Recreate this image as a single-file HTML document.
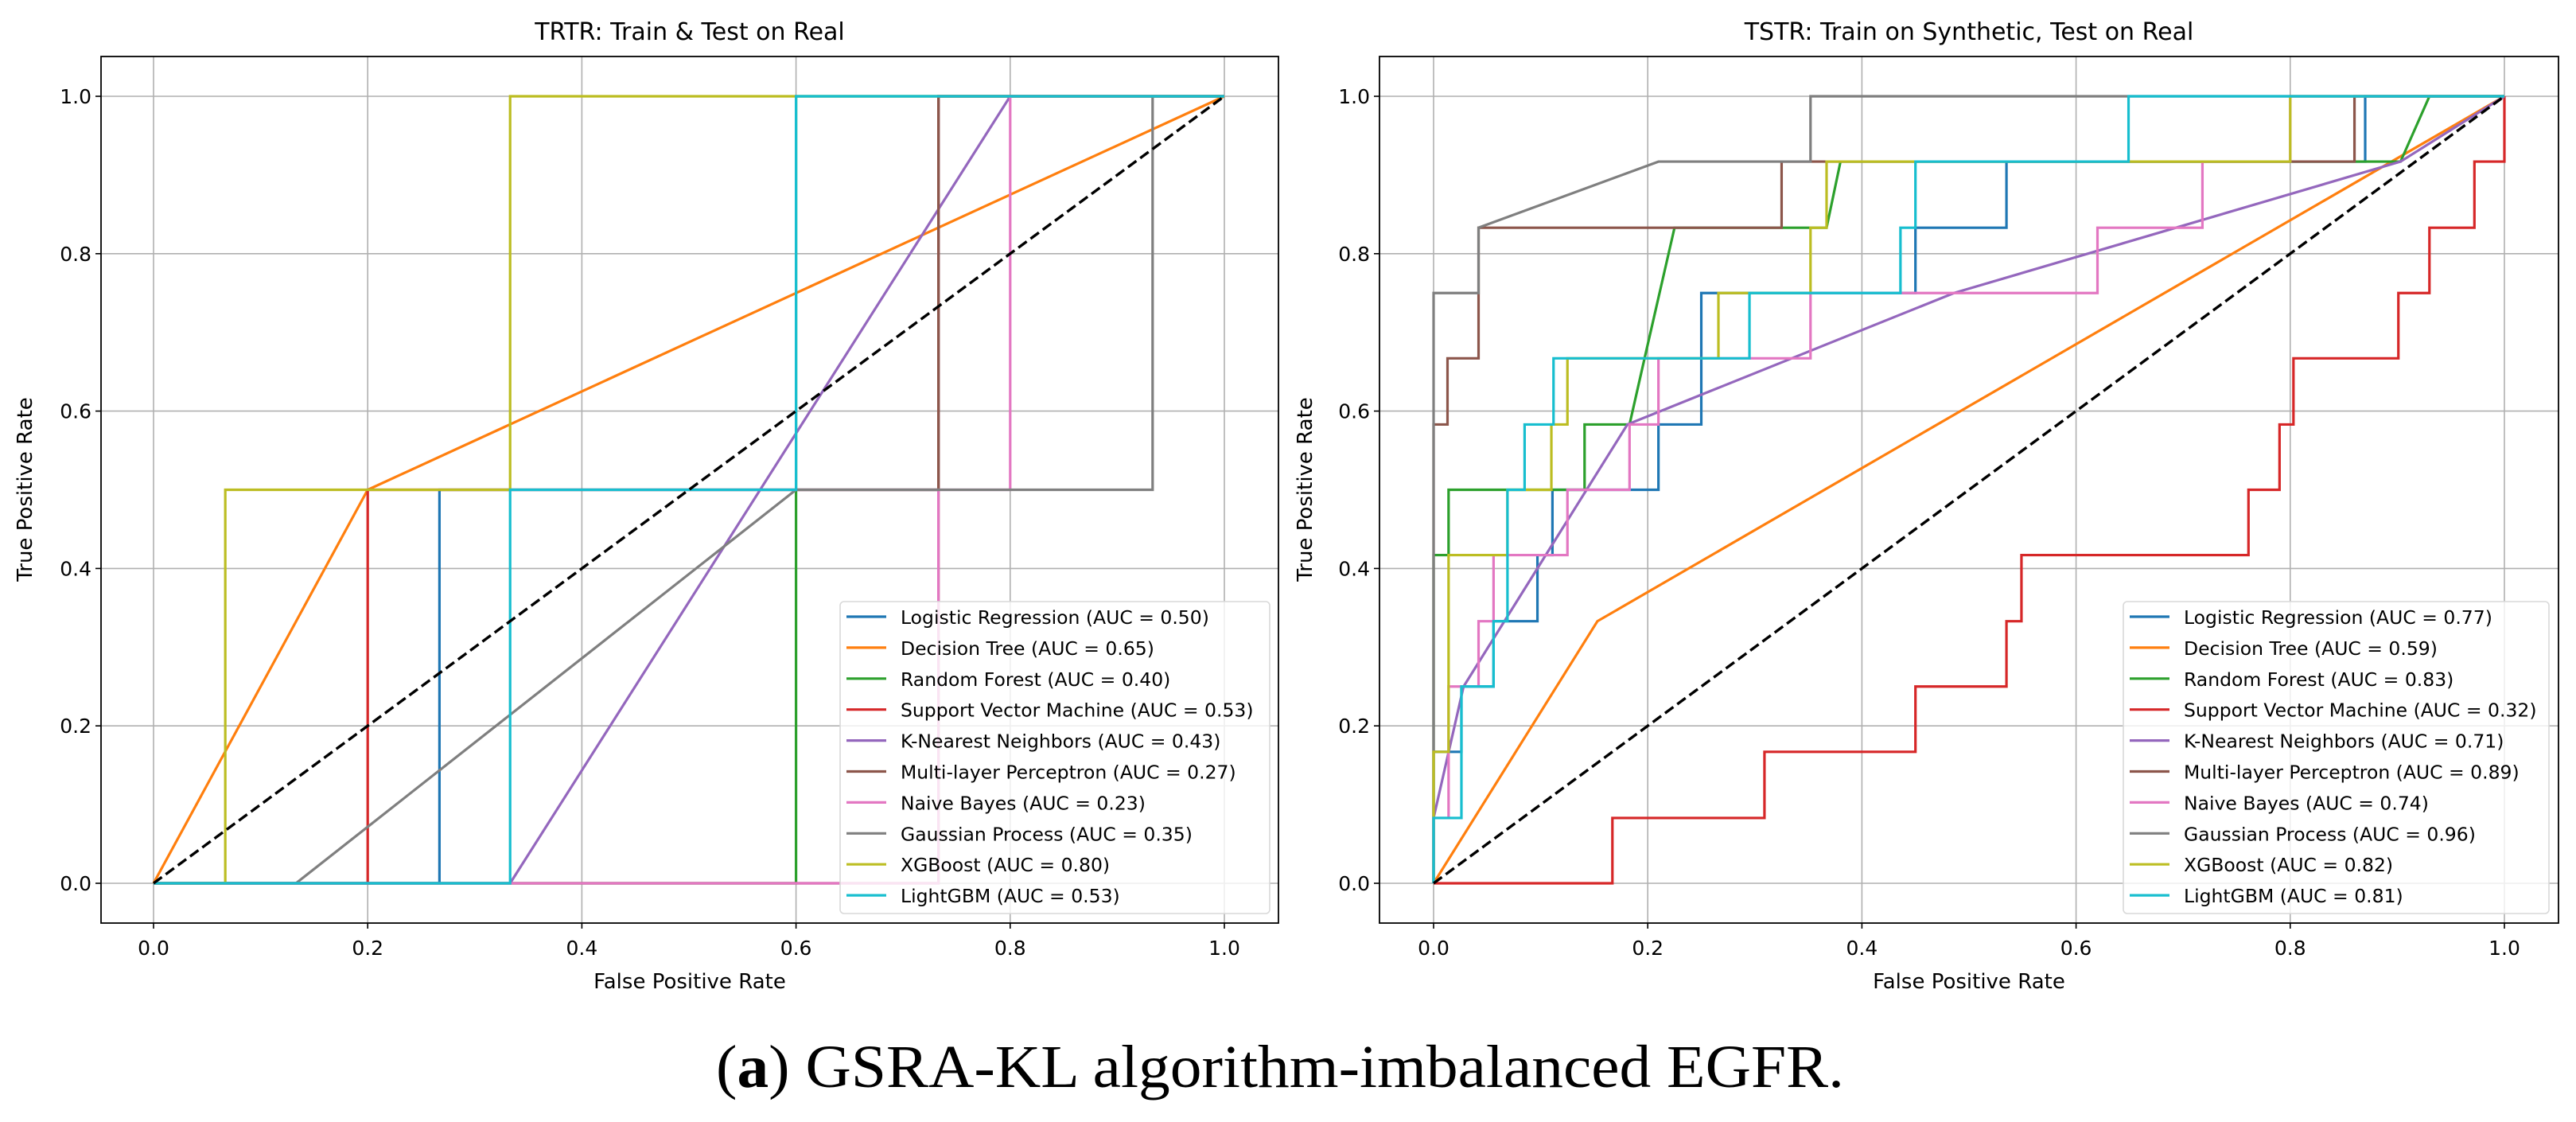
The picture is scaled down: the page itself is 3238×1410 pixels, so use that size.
<!DOCTYPE html>
<html><head><meta charset="utf-8"><style>
html,body{margin:0;padding:0;background:#fff;}
svg{display:block;}
text{font-family:"DejaVu Sans","Liberation Sans",sans-serif;fill:#000;}
</style></head><body>
<svg id="fig" width="3238" height="1410" viewBox="0 0 3238 1410" xmlns="http://www.w3.org/2000/svg">
<text x="1609" y="1366" text-anchor="middle" textLength="1418" lengthAdjust="spacingAndGlyphs" style="font-family:'Liberation Serif',serif;font-size:76px;">(<tspan font-weight="bold">a</tspan>) GSRA-KL algorithm-imbalanced EGFR.</text>
</svg>
<script>
const names = ["Logistic Regression","Decision Tree","Random Forest","Support Vector Machine","K-Nearest Neighbors","Multi-layer Perceptron","Naive Bayes","Gaussian Process","XGBoost","LightGBM"];
const colors = ["#1f77b4","#ff7f0e","#2ca02c","#d62728","#9467bd","#8c564b","#e377c2","#7f7f7f","#bcbd22","#17becf"];
const ticks = [0,0.2,0.4,0.6,0.8,1.0];
const tickLabels = ["0.0","0.2","0.4","0.6","0.8","1.0"];
const aucLeft = ["0.50","0.65","0.40","0.53","0.43","0.27","0.23","0.35","0.80","0.53"];
const aucRight = ["0.77","0.59","0.83","0.32","0.71","0.89","0.74","0.96","0.82","0.81"];
const lrLeft = [[0,0],[0.267,0],[0.267,0.5],[0.733,0.5],[0.733,1],[1,1]];
const dtLeft = [[0,0],[0.2,0.5],[1,1]];
const rfLeft = [[0,0],[0.6,0],[0.6,1],[1,1]];
const svmLeft = [[0,0],[0.2,0],[0.2,0.5],[0.733,0.5],[0.733,1],[1,1]];
const knnLeft = [[0,0],[0.333,0],[0.8,1],[1,1]];
const mlpLeft = [[0,0],[0.733,0],[0.733,1],[1,1]];
const nbLeft = [[0,0],[0.733,0],[0.733,0.5],[0.8,0.5],[0.8,1],[1,1]];
const gpLeft = [[0,0],[0.133,0],[0.6,0.5],[0.933,0.5],[0.933,1],[1,1]];
const xgbLeft = [[0,0],[0.067,0],[0.067,0.5],[0.333,0.5],[0.333,1],[1,1]];
const lgbmLeft = [[0,0],[0.333,0],[0.333,0.5],[0.6,0.5],[0.6,1],[1,1]];
const lrRight = [[0,0],[0,0.167],[0.026,0.167],[0.026,0.25],[0.056,0.25],[0.056,0.333],[0.097,0.333],[0.097,0.417],[0.111,0.417],[0.111,0.5],[0.21,0.5],[0.21,0.583],[0.25,0.583],[0.25,0.75],[0.45,0.75],[0.45,0.833],[0.535,0.833],[0.535,0.917],[0.87,0.917],[0.87,1],[1,1]];
const dtRight = [[0,0],[0.153,0.333],[1,1]];
const rfRight = [[0,0],[0,0.417],[0.014,0.417],[0.014,0.5],[0.141,0.5],[0.141,0.583],[0.183,0.583],[0.197,0.667],[0.225,0.833],[0.367,0.833],[0.38,0.917],[0.903,0.917],[0.93,1],[1,1]];
const svmRight = [[0,0],[0.167,0],[0.167,0.083],[0.309,0.083],[0.309,0.167],[0.45,0.167],[0.45,0.25],[0.535,0.25],[0.535,0.333],[0.549,0.333],[0.549,0.417],[0.761,0.417],[0.761,0.5],[0.79,0.5],[0.79,0.583],[0.803,0.583],[0.803,0.667],[0.901,0.667],[0.901,0.75],[0.93,0.75],[0.93,0.833],[0.972,0.833],[0.972,0.917],[1,0.917],[1,1]];
const knnRight = [[0,0],[0,0.083],[0.028,0.25],[0.181,0.583],[0.486,0.75],[0.903,0.917],[1,1]];
const mlpRight = [[0,0],[0,0.583],[0.013,0.583],[0.013,0.667],[0.042,0.667],[0.042,0.833],[0.325,0.833],[0.325,0.917],[0.86,0.917],[0.86,1],[1,1]];
const nbRight = [[0,0],[0,0.083],[0.014,0.083],[0.014,0.25],[0.042,0.25],[0.042,0.333],[0.056,0.333],[0.056,0.417],[0.125,0.417],[0.125,0.5],[0.183,0.5],[0.183,0.583],[0.21,0.583],[0.21,0.667],[0.352,0.667],[0.352,0.75],[0.62,0.75],[0.62,0.833],[0.718,0.833],[0.718,0.917],[0.8,0.917],[0.8,1],[1,1]];
const gpRight = [[0,0],[0,0.75],[0.042,0.75],[0.042,0.833],[0.21,0.917],[0.352,0.917],[0.352,1],[1,1]];
const xgbRight = [[0,0],[0,0.167],[0.014,0.167],[0.014,0.417],[0.069,0.417],[0.069,0.5],[0.11,0.5],[0.11,0.583],[0.125,0.583],[0.125,0.667],[0.266,0.667],[0.266,0.75],[0.352,0.75],[0.352,0.833],[0.367,0.833],[0.367,0.917],[0.8,0.917],[0.8,1],[1,1]];
const lgbmRight = [[0,0],[0,0.083],[0.026,0.083],[0.026,0.25],[0.056,0.25],[0.056,0.333],[0.069,0.333],[0.069,0.5],[0.085,0.5],[0.085,0.583],[0.112,0.583],[0.112,0.667],[0.295,0.667],[0.295,0.75],[0.436,0.75],[0.436,0.833],[0.45,0.833],[0.45,0.917],[0.649,0.917],[0.649,1],[1,1]];
const diag = [[0,0],[1,1]];

const NS = "http://www.w3.org/2000/svg";
const svg = document.getElementById("fig");
function mk(tag, attrs, parent){const e=document.createElementNS(NS,tag);for(const k in attrs)e.setAttribute(k,attrs[k]);(parent||svg).appendChild(e);return e;}

function panel(cfg){
  const g = mk("g",{});
  
  
  const xs = v => cfg.x0 + v*(cfg.x1-cfg.x0);
  const ys = v => cfg.y0 + v*(cfg.y1-cfg.y0);
  ticks.forEach((t,i)=>{
    const gx = mk("line",{x1:xs(t),x2:xs(t),y1:cfg.top,y2:cfg.bottom,stroke:"#b0b0b0","stroke-width":1.6},g);
    
    
    const gy = mk("line",{x1:cfg.left,x2:cfg.right,y1:ys(t),y2:ys(t),stroke:"#b0b0b0","stroke-width":1.6},g);
    
    
    mk("line",{x1:xs(t),x2:xs(t),y1:cfg.bottom,y2:cfg.bottom+7,stroke:"#000","stroke-width":1.6},g);
    mk("line",{x1:cfg.left-7,x2:cfg.left,y1:ys(t),y2:ys(t),stroke:"#000","stroke-width":1.6},g);
    const tx = mk("text",{x:xs(t),y:cfg.bottom+40,"text-anchor":"middle","font-size":25},g);
    tx.textContent = tickLabels[i];
    
    
    const ty = mk("text",{x:cfg.left-12,y:ys(t)+9,"text-anchor":"end","font-size":25},g);
    ty.textContent = tickLabels[i];
    
    
  });
  cfg.series.forEach((pts,i)=>{
    const p = mk("polyline",{points:pts.map(q=>xs(q[0])+","+ys(q[1])).join(" "),fill:"none",stroke:colors[i],"stroke-width":3.2,"stroke-linejoin":"miter"},g);
    
    
  });
  const d = mk("polyline",{points:diag.map(q=>xs(q[0])+","+ys(q[1])).join(" "),fill:"none",stroke:"#000","stroke-width":3.4,"stroke-dasharray":"13,6"},g);
  
  
  const fr = mk("rect",{x:cfg.left,y:cfg.top,width:cfg.right-cfg.left,height:cfg.bottom-cfg.top,fill:"none",stroke:"#000","stroke-width":1.8},g);
  
  
  const ti = mk("text",{x:(cfg.left+cfg.right)/2,y:50,"text-anchor":"middle","font-size":30},g);
  ti.textContent = cfg.title;
  
  
  const xl = mk("text",{x:(cfg.left+cfg.right)/2,y:1242,"text-anchor":"middle","font-size":26},g);
  xl.textContent = "False Positive Rate";
  
  
  const yl = mk("text",{x:0,y:0,"text-anchor":"middle","font-size":26,transform:"translate("+(cfg.ylabX)+",615) rotate(-90)"},g);
  yl.textContent = "True Positive Rate";
  
  
  const lg = mk("g",{},g);
  
  
  mk("rect",{x:cfg.legX,y:756,width:cfg.legW,height:392,rx:5,fill:"#fff","fill-opacity":0.8,stroke:"#d9d9d9","stroke-width":1.6},lg);
  names.forEach((n,i)=>{
    const cy = 775 + i*38.9;
    const ln = mk("line",{x1:cfg.legX+8,x2:cfg.legX+58,y1:cy,y2:cy,stroke:colors[i],"stroke-width":3.2},lg);
    
    
    const t = mk("text",{x:cfg.legX+76,y:cy+9,"font-size":23.5},lg);
    t.textContent = n+" (AUC = "+cfg.auc[i]+")";
    
    
  });
}
panel({id:"trtr-chart",title:"TRTR: Train & Test on Real",left:127,right:1607,top:71,bottom:1160,x0:193,x1:1539,y0:1110,y1:121,ylabX:40,legX:1056,legW:540,auc:aucLeft,
  series:[lrLeft,dtLeft,rfLeft,svmLeft,knnLeft,mlpLeft,nbLeft,gpLeft,xgbLeft,lgbmLeft]});
panel({id:"tstr-chart",title:"TSTR: Train on Synthetic, Test on Real",left:1734,right:3216,top:71,bottom:1160,x0:1802,x1:3148,y0:1110,y1:121,ylabX:1649,legX:2669,legW:535,auc:aucRight,
  series:[lrRight,dtRight,rfRight,svmRight,knnRight,mlpRight,nbRight,gpRight,xgbRight,lgbmRight]});
</script>
</body></html>
